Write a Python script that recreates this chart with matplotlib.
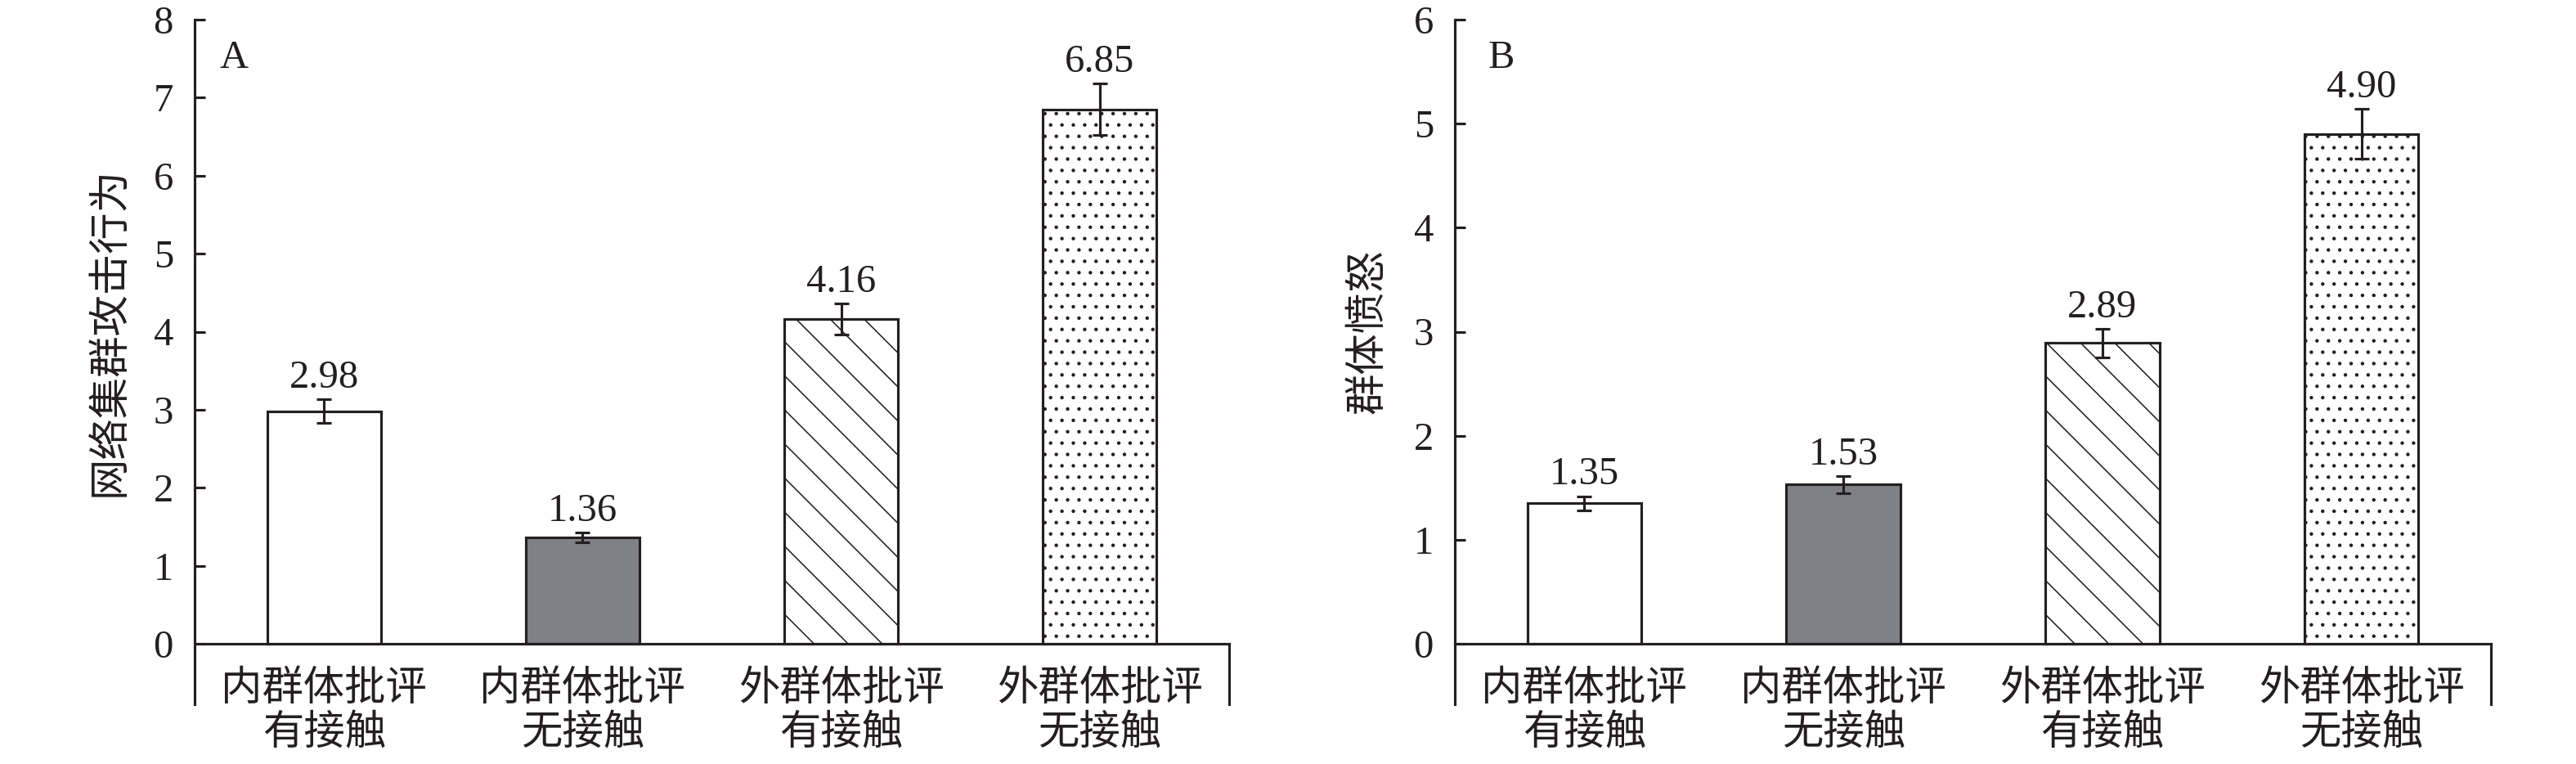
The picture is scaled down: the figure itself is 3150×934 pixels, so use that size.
import matplotlib
matplotlib.use('Agg')
import matplotlib.pyplot as plt
import numpy as np

plt.rcParams['font.family'] = ['Liberation Serif', 'Noto Sans CJK SC']
plt.rcParams['hatch.linewidth'] = 0.45
plt.rcParams['axes.unicode_minus'] = False

# ---- data ----
categories = ['内群体批评\n有接触', '内群体批评\n无接触', '外群体批评\n有接触', '外群体批评\n无接触']
aggression_means = [2.98, 1.36, 4.16, 6.85]
aggression_errs = [0.15, 0.065, 0.20, 0.33]
anger_means = [1.35, 1.53, 2.89, 4.90]
anger_errs = [0.065, 0.08, 0.135, 0.24]
panel_labels = ['A', 'B']
ylabels = ['网络集群攻击行为', '群体愤怒']
ymax_a = 8
ymax_b = 6

# ---- style ----
INK = '#231f20'
fills = ['white', '#808187', 'white', 'white']
hatches = ['', '', '\\\\', '...']
EXT = 74 / 763  # extension of frame below zero, as fraction of y range

fig = plt.figure(figsize=(12.6, 3.736), dpi=250)
axA = fig.add_axes([238 / 3150, 73 / 934, 1265 / 3150, 837 / 934])
axB = fig.add_axes([1779 / 3150, 73 / 934, 1267 / 3150, 837 / 934])


def draw(ax, means, errs, ymax, plabel, ylabel, lab_x, letter_x):
    x = np.arange(len(categories))
    bars = ax.bar(x, means, width=0.44, color=fills, edgecolor=INK, linewidth=0.9, zorder=2)
    for b, h in zip(bars, hatches):
        b.set_hatch(h)
    ax.errorbar(x, means, yerr=errs, fmt='none', ecolor=INK, elinewidth=0.9,
                capsize=2.6, capthick=0.9, zorder=3)
    for xi, m, e in zip(x, means, errs):
        ax.annotate(f'{m:.2f}', xy=(xi, m + e), xytext=(0, 4.2), textcoords='offset points',
                    ha='center', va='baseline', fontsize=14, color=INK)
    ymin = -ymax * EXT
    ax.set_xlim(-0.5, len(categories) - 0.5)
    ax.set_ylim(ymin, ymax)
    ax.tick_params(axis='y', direction='in', length=3.7, width=0.9, pad=7.5,
                   labelsize=14, colors=INK)
    ax.tick_params(axis='x', length=0, pad=9.5, labelsize=14.5, labelcolor=INK)
    ax.set_yticks(np.arange(0, ymax + 1))
    ax.set_yticklabels([str(v) for v in range(0, ymax + 1)])
    ax.set_xticks(x)
    ax.set_xticklabels(categories, linespacing=1.6, fontsize=14.5)
    ax.spines['top'].set_visible(False)
    ax.spines['bottom'].set_position(('data', 0))
    ax.spines['right'].set_bounds(ymin, 0)
    for s in ['left', 'bottom', 'right']:
        ax.spines[s].set_linewidth(0.9)
        ax.spines[s].set_color(INK)
    ax.set_ylabel(ylabel, fontsize=14.5, color=INK)
    ax.yaxis.set_label_coords(lab_x, (ymax / 2 - ymin) / (ymax - ymin))
    ax.text(letter_x, 0.944, plabel, transform=ax.transAxes, ha='left', va='center',
            fontsize=14, color=INK)


draw(axA, aggression_means, aggression_errs, ymax_a, panel_labels[0], ylabels[0], -0.062, 0.024)
draw(axB, anger_means, anger_errs, ymax_b, panel_labels[1], ylabels[1], -0.064, 0.032)

fig.savefig('out.png', dpi=250)
